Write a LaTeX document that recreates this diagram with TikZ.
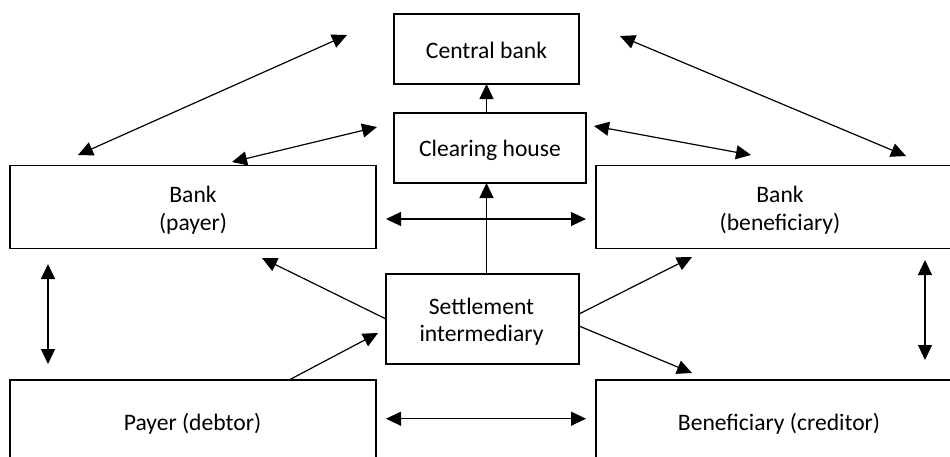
\documentclass[tikz,border=0pt]{standalone}
\usepackage{fontspec}
\setmainfont{Carlito}
\usetikzlibrary{arrows.meta}
\begin{document}
\begin{tikzpicture}[x=1pt,y=-1pt,
  box/.style={draw, line width=1.5pt, rectangle, inner sep=0pt, outer sep=0pt},
  lbl/.style={anchor=base, inner sep=0pt, font=\fontsize{23.6}{28}\selectfont},
  conn/.style={line width=1.2pt},
  dbl/.style={conn, {Triangle[length=15pt,width=14pt]}-{Triangle[length=15pt,width=14pt]}},
  one/.style={conn, -{Triangle[length=15pt,width=14pt]}}]
\useasboundingbox (0,0) rectangle (950,456);
\clip (0,0) rectangle (950,456);
% boxes
\node[box, minimum width=185pt, minimum height=70pt] (central) at (486.5,49) {};
\node[box, minimum width=192pt, minimum height=70pt] (clear) at (490,148) {};
\node[box, minimum width=366pt, minimum height=83pt] (bankp) at (193,207) {};
\node[box, minimum width=368pt, minimum height=83pt] (bankb) at (780,207) {};
\node[box, minimum width=193pt, minimum height=90pt] (settle) at (482.5,319) {};
\node[box, minimum width=366pt, minimum height=86pt] (payer) at (193,423) {};
\node[box, minimum width=368pt, minimum height=86pt] (benef) at (780,423) {};
% labels
\node[lbl] (tcentral) at (486.5,58) {Central bank};
\node[lbl] (tclear) at (490,156.7) {Clearing house};
\node[lbl] (tbankp1) at (193,202) {Bank};
\node[lbl] (tbankp2) at (193,230) {(payer)};
\node[lbl] (tbankb1) at (780,202) {Bank};
\node[lbl] (tbankb2) at (780,230) {(beneficiary)};
\node[lbl] (tsettle1) at (481.5,314) {Settlement};
\node[lbl] (tsettle2) at (481.5,341) {intermediary};
\node[lbl] (tpayer) at (192.5,430) {Payer (debtor)};
\node[lbl] (tbenef) at (779,430) {Beneficiary (creditor)};
% free ends
\coordinate (a1s) at (78,155);   \coordinate (a1e) at (347,35);
\coordinate (a2s) at (232,162);  \coordinate (a2e) at (377,127);
\coordinate (a3s) at (620,36);   \coordinate (a3e) at (906,156);
\coordinate (a4s) at (594,126);  \coordinate (a4e) at (751,155);
\coordinate (a7s) at (386,219);  \coordinate (a7e) at (586,219);
\coordinate (a8e) at (262,258);
\coordinate (a9e) at (378,333);
\coordinate (a10e) at (692,257);
\coordinate (a11e) at (692,373);
\coordinate (a12s) at (48,264);  \coordinate (a12e) at (48,364);
\coordinate (a13s) at (925,260); \coordinate (a13e) at (925,360);
\coordinate (a14s) at (386,418.7); \coordinate (a14e) at (586,418.7);
% connectors
\draw[dbl] (a1s) -- (a1e);
\draw[dbl] (a2s) -- (a2e);
\draw[dbl] (a3s) -- (a3e);
\draw[dbl] (a4s) -- (a4e);
\draw[one] (clear.north -| central.center) -- (central.south -| central.center);
\draw[one] (settle.north -| central.center) -- (clear.south -| central.center);
\draw[dbl] (a7s) -- (a7e);
\draw[one] (settle.west) -- (a8e);
\draw[one] ([xshift=96pt]payer.north) -- (a9e);
\draw[one] ([yshift=5pt]settle.east) -- (a10e);
\draw[one] ([yshift=-7pt]settle.east) -- (a11e);
\draw[dbl] (a12s) -- (a12e);
\draw[dbl] (a13s) -- (a13e);
\draw[dbl] (a14s) -- (a14e);
\end{tikzpicture}
\end{document}
